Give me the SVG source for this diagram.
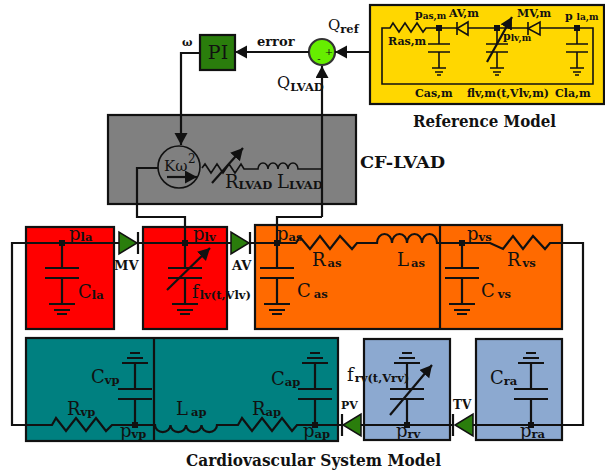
<svg xmlns="http://www.w3.org/2000/svg" width="605" height="472" viewBox="0 0 605 472">
<style>
.b{stroke:#111;stroke-width:2.2}
.w{fill:none;stroke:#111;stroke-width:2.2;stroke-linejoin:miter}
.n{fill:none;stroke:#111;stroke-width:1.6}
.t{stroke:#111;stroke-width:2.2;fill:none}
.v{fill:#2a7d0c;stroke:#111;stroke-width:1.5}
text{font-family:"DejaVu Serif","Liberation Serif",serif;fill:#111}
.m{font-size:18px}
.s{font-size:11.500px;font-weight:bold}
.r{font-size:11px;font-weight:bold}
.h{font-size:16px;font-weight:bold}
</style>
<defs>
<marker id="a" markerUnits="userSpaceOnUse" markerWidth="14" markerHeight="14" refX="12" refY="6.500" orient="auto"><path d="M0 0L12 6.500L0 13z" fill="#111"/></marker>
<g id="capd"><path class="t" d="M0 0V25M-17 25H17M-17 35H17M0 35V61M-13 61H13M-8 67H8M-5 71H5"/><rect x="-3" y="-3" width="6" height="6" fill="#111"/></g>
<g id="capu"><path class="t" d="M0 0V-26M-17 -26H17M-17 -36H17M0 -36V-62M-13 -62H13M-8 -67H8M-5 -72H5"/><rect x="-3" y="-3" width="6" height="6" fill="#111"/></g>
<g id="capm"><path class="n" d="M0 0V16M-11 16H11M-11 24H11M0 24V40M-7 40H7M-4 44H4M-2 47H2"/><rect x="-3" y="-3" width="6" height="6" fill="#111"/></g>
</defs>

<g id="reference-model">
<rect class="b" x="370" y="5" width="234" height="99" fill="#ffd700"/>
<path class="n" d="M468 28H528M540 28H593V84H382V28H390l3-5 6 9 6-9 6 9 6-9 6 9 3-4H457"/>
<path d="M468 22V35L457 28.500ZM540 22V35L528 28.500Z" fill="#ffd700" stroke="#111" stroke-width="1.600"/>
<path class="n" d="M457 22V35M528 22V35"/>
<use href="#capm" x="439" y="28"/><use href="#capm" x="497" y="28"/><use href="#capm" x="577" y="28"/>
<path class="w" d="M487 62L512 17" marker-end="url(#a)"/>
<text x="415" y="18" class="r">p<tspan font-size="9" dy="1">as,m</tspan></text>
<text x="449" y="17" class="r">AV,m</text>
<text x="517" y="17" class="r">MV,m</text>
<text x="565" y="20" class="r">p <tspan font-size="9">la,m</tspan></text>
<text x="503" y="40" class="r">p<tspan font-size="9" dy="1">lv,m</tspan></text>
<text x="388" y="45" class="r">Ras,m</text>
<text x="415" y="97" class="r">Cas,m</text>
<text x="467" y="97" class="r" textLength="82" lengthAdjust="spacingAndGlyphs">flv,m(t,Vlv,m)</text>
<text x="555" y="97" class="r">Cla,m</text>
</g>
<text id="reference-label" x="413" y="127" class="h" textLength="143" lengthAdjust="spacingAndGlyphs">Reference Model</text>

<g id="pi"><rect class="b" x="200" y="35" width="35" height="35" fill="#2a7d0c"/><text x="218" y="59" font-size="19" text-anchor="middle">PI</text></g>
<g id="sum"><circle cx="322" cy="52" r="13" fill="#66ee00" stroke="#333" stroke-width="2.200"/><text x="329" y="55" font-size="10" text-anchor="middle">+</text><text x="319" y="62" font-size="10" text-anchor="middle">-</text></g>

<g id="cf-lvad">
<rect class="b" x="108" y="115" width="248" height="89" fill="#808080"/>
<circle cx="179" cy="167" r="21" fill="#808080" stroke="#111" stroke-width="1.600"/>
<path class="w" d="M167 177H197" marker-end="url(#a)"/>
<path class="n" d="M202 168l3-4 6 9 6-9 6 9 6-9 6 9 6-9 3 5H258a5 6 0 0 1 10 0a5 6 0 0 1 10 0a5 6 0 0 1 10 0a5 6 0 0 1 10 0H322"/>
<path class="w" d="M212 183L243 148" marker-end="url(#a)"/>
<text x="164" y="171" font-size="15">Kω<tspan font-size="12" x="188" y="163">2</tspan></text>
<text x="225" y="188" class="m">R<tspan class="s" dy="1" font-size="9">LVAD</tspan></text>
<text x="277" y="188" class="m">L<tspan class="s" dy="1" font-size="9">LVAD</tspan></text>
</g>
<text id="cf-lvad-label" x="360" y="168" class="h" textLength="85" lengthAdjust="spacingAndGlyphs">CF-LVAD</text>

<g id="la"><rect class="b" x="26" y="227" width="88" height="102" fill="#f00"/></g>
<g id="lv"><rect class="b" x="143" y="227" width="84" height="102" fill="#f00"/></g>
<g id="systemic"><rect class="b" x="255" y="225" width="307" height="104" fill="#ff6a00"/><path class="t" d="M440 225V329"/></g>
<g id="pulmonary"><rect class="b" x="26" y="338" width="312" height="103" fill="#008080"/><path class="t" d="M154 338V441"/></g>
<g id="rv"><rect class="b" x="364" y="339" width="86" height="101" fill="#8ca9d0"/></g>
<g id="ra"><rect class="b" x="476" y="339" width="86" height="101" fill="#8ca9d0"/></g>

<g id="connectors">
<path class="w" d="M370 52H335" marker-end="url(#a)"/>
<path class="w" d="M309 52H235" marker-end="url(#a)"/>
<path class="w" d="M200 53H181V145" marker-end="url(#a)"/>
<path class="w" d="M322 217V66" marker-end="url(#a)"/>
<path class="w" d="M322 217H277V243"/>
<path class="w" d="M158 168H137V217H185V243"/>
<path class="w" d="M119 243H12V425H52l4-7 10 13 10-13 10 13 10-13 10 13 6-6H155a7.700 7 0 0 0 15.500 0a7.700 7 0 0 0 15.500 0a7.700 7 0 0 0 15.500 0a7.700 7 0 0 0 15.500 0H238l4-7 10 13 10-13 10 13 10-13 10 13 5-6H343"/>
<path class="w" d="M138 243H231M250 243H296l4-6 10 12 10-13 10 13 10-13 12 13 5-6H377a7.500 9 0 0 1 15 0a7.500 9 0 0 1 15 0a7.500 9 0 0 1 15 0a7.500 9 0 0 1 15 0H490l13 6 10-13 10 13 10-13 12 13 5-6H583V425H473M453 425H361M342 425H338"/>
</g>

<g id="mv"><path class="v" d="M119 232V254L137 243Z"/><path class="t" d="M138 232V254"/><text x="114" y="270" font-size="13" font-weight="bold">MV</text></g>
<g id="av"><path class="v" d="M231 232V254L249 243Z"/><path class="t" d="M250 232V254"/><text x="232" y="270" font-size="13" font-weight="bold">AV</text></g>
<g id="pv"><path class="v" d="M361 414V436L343 425Z"/><path class="t" d="M342 414V436"/><text x="341" y="409" class="r">PV</text></g>
<g id="tv"><path class="v" d="M473 414V436L455 425Z"/><path class="t" d="M453 414V436"/><text x="453" y="409" font-size="12" font-weight="bold">TV</text></g>

<g id="caps">
<use href="#capd" x="62" y="243"/><use href="#capd" x="185" y="243"/><use href="#capd" x="277" y="243"/><use href="#capd" x="462" y="243"/>
<use href="#capu" x="135" y="425"/><use href="#capu" x="315" y="425"/><use href="#capu" x="407" y="425"/><use href="#capu" x="531" y="425"/>
<path class="w" d="M167 290L210 248" marker-end="url(#a)"/>
<path class="w" d="M390 415L432 365" marker-end="url(#a)"/>
</g>

<g id="labels">
<text x="328" y="30" font-size="15">Q<tspan class="s" dy="3" font-size="9">ref</tspan></text>
<text x="277" y="88" font-size="16">Q<tspan class="s" dy="3" font-size="9">LVAD</tspan></text>
<text x="182" y="46" class="r">ω</text>
<text x="257" y="46" font-size="13" font-weight="bold">error</text>
<text x="69" y="240" class="m">p<tspan class="s" dy="1">la</tspan></text>
<text x="78" y="298" class="m">C<tspan class="s" dy="1">la</tspan></text>
<text x="193" y="240" class="m">p<tspan class="s" dy="1">lv</tspan></text>
<text x="192" y="298" class="m">f<tspan class="s" dy="1" dx="1" font-size="10.500">lv(t,Vlv)</tspan></text>
<text x="277" y="240" class="m">p<tspan class="s" dy="1">as</tspan></text>
<text x="312" y="266" class="m">R<tspan class="s" dy="1" dx="2">as</tspan></text>
<text x="397" y="266" class="m">L<tspan class="s" dy="1" dx="2">as</tspan></text>
<text x="297" y="297" class="m">C<tspan class="s" dy="1" dx="3">as</tspan></text>
<text x="467" y="240" class="m">p<tspan class="s" dy="1">vs</tspan></text>
<text x="507" y="266" class="m">R<tspan class="s" dy="1" dx="2">vs</tspan></text>
<text x="481" y="297" class="m">C<tspan class="s" dy="1" dx="3">vs</tspan></text>
<text x="91" y="383" class="m">C<tspan class="s" dy="1">vp</tspan></text>
<text x="67" y="415" class="m">R<tspan class="s" dy="1">vp</tspan></text>
<text x="120" y="437" class="m">p<tspan class="s" dy="1">vp</tspan></text>
<text x="176" y="415" class="m">L<tspan class="s" dy="1" dx="3">ap</tspan></text>
<text x="252" y="415" class="m">R<tspan class="s" dy="1">ap</tspan></text>
<text x="271" y="385" class="m">C<tspan class="s" dy="1">ap</tspan></text>
<text x="303" y="437" class="m">p<tspan class="s" dy="1">ap</tspan></text>
<text x="347" y="381" class="m">f<tspan class="s" dy="1" dx="1" font-size="10">rv(t,Vrv)</tspan></text>
<text x="396" y="437" class="m">p<tspan class="s" dy="1">rv</tspan></text>
<text x="520" y="437" class="m">p<tspan class="s" dy="1">ra</tspan></text>
<text x="490" y="384" class="m">C<tspan class="s" dy="1">ra</tspan></text>
<text x="186" y="466" class="h" textLength="255" lengthAdjust="spacingAndGlyphs">Cardiovascular System Model</text>
</g>
</svg>
